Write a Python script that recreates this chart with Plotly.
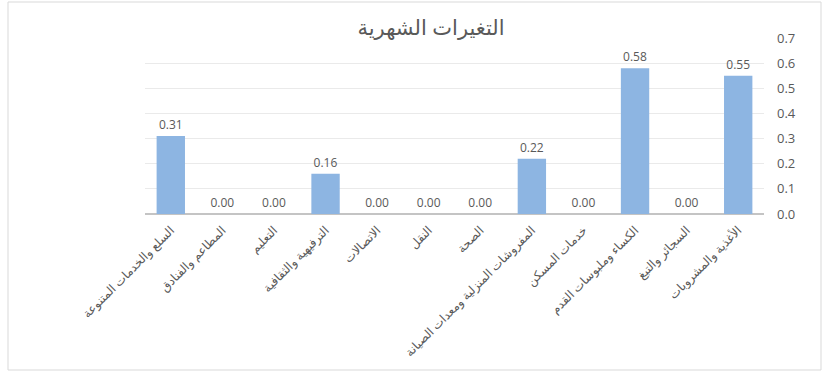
import plotly.graph_objects as go

categories = [
    "الأغذية والمشروبات",
    "السجائر والتبغ",
    "الكساء وملبوسات القدم",
    "خدمات المسكن",
    "المفروشات المنزلية ومعدات الصيانة",
    "الصحة",
    "النقل",
    "الاتصالات",
    "الترفيهية والثقافية",
    "التعليم",
    "المطاعم والفنادق",
    "السلع والخدمات المتنوعة",
]
values = [0.55, 0.00, 0.58, 0.00, 0.22, 0.00, 0.00, 0.00, 0.16, 0.00, 0.00, 0.31]
y_ticks = [0.0, 0.1, 0.2, 0.3, 0.4, 0.5, 0.6, 0.7]

FONT = "Open Sans, DejaVu Sans, sans-serif"

fig = go.Figure(
    go.Bar(
        x=categories,
        y=values,
        marker=dict(color="#8DB5E2", line=dict(width=0)),
        texttemplate="%{y:.2f}",
        textposition="outside",
        textfont=dict(size=12, color="#595959", family=FONT),
        cliponaxis=False,
    )
)

W, H = 827, 377
L, R, T, B = 145, 63, 38, 163
pw, ph = W - L - R, H - T - B

fig.update_layout(
    width=W,
    height=H,
    margin=dict(l=L, r=R, t=T, b=B, autoexpand=False),
    paper_bgcolor="white",
    plot_bgcolor="white",
    bargap=0.45,
    showlegend=False,
    font=dict(family=FONT, color="#595959"),
    title=dict(
        text="التغيرات الشهرية",
        x=431 / W,
        xanchor="center",
        y=1 - 28 / H,
        yanchor="middle",
        font=dict(size=21, color="#595959", family=FONT),
    ),
    xaxis=dict(
        autorange="reversed",
        automargin=False,
        tickangle=-45,
        tickfont=dict(size=12, color="#595959", family=FONT),
        showgrid=False,
        showline=False,
        ticks="",
        ticklabelstandoff=6,
    ),
    yaxis=dict(
        side="right",
        automargin=False,
        range=[0, 0.7005],
        tickvals=y_ticks,
        tickformat=".1f",
        tickfont=dict(size=13, color="#595959", family=FONT),
        showgrid=True,
        gridcolor="#EAEAEA",
        zeroline=True,
        zerolinecolor="#C4C4C4",
        zerolinewidth=2,
        ticklabelstandoff=12,
    ),
    shapes=[
        dict(
            type="rect",
            xref="paper",
            yref="paper",
            x0=(8 - L) / pw,
            x1=(821 - L) / pw,
            y0=(H - B - 370) / ph,
            y1=(H - B - 2) / ph,
            line=dict(color="#D9D9D9", width=1),
            fillcolor="rgba(0,0,0,0)",
            layer="below",
        )
    ],
)

fig.write_html(
    "out.html",
    config={"displayModeBar": False},
    post_script="document.body.style.margin='0';document.body.style.overflow='hidden';",
)
